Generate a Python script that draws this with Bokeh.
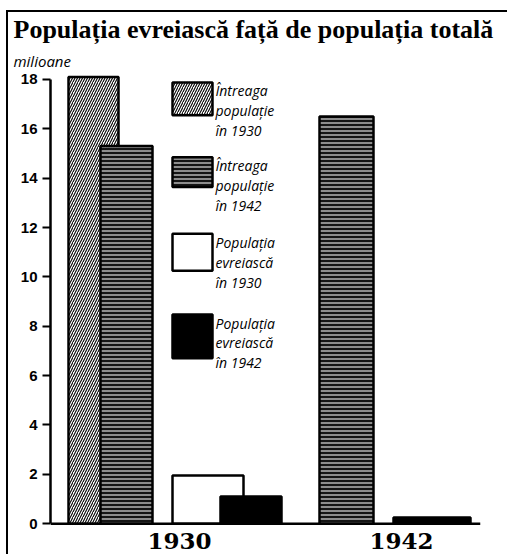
from bokeh.plotting import figure
from bokeh.models import Range1d, FixedTicker, Title, ColumnDataSource, Span
from bokeh.core.properties import value
from bokeh.embed import file_html
from bokeh.resources import INLINE

# ---------------- data ----------------
title_text = "Populația evreiască față de populația totală"
unit_text = "milioane"
year_labels = ["1930", "1942"]
y_ticks = [0, 2, 4, 6, 8, 10, 12, 14, 16, 18]
series_labels = [
    "Întreaga\npopulație\nîn 1930",
    "Întreaga\npopulație\nîn 1942",
    "Populația\nevreiască\nîn 1930",
    "Populația\nevreiască\nîn 1942",
]
bar_series = [0, 1, 2, 3, 1, 3]                      # series of each bar
bar_values = [18.1, 15.3, 1.95, 1.1, 16.5, 0.25]     # millions

# ---------------- layout (px, relative to the plot frame) ----------------
FRAME_W = 430
Y_MAX = 18.2
PX = 451 / Y_MAX                           # px per million
Y_MIN = -33 / PX                           # room under the baseline for the year labels
bar_left = [18, 50, 122, 170, 269, 343]
bar_right = [68, 102, 193, 231, 323, 420]
year_label_pos = [129, 351]
year_label_drop = 17                       # px from baseline to label centre
leg_x0, leg_x1, leg_text_x = 122, 162, 165
leg_top = [443, 368, 291, 210]             # px above baseline
leg_h = [33, 30, 37, 44]

styles = [
    dict(fill_color="white", hatch_pattern="/", hatch_color="black", hatch_scale=5, hatch_weight=1.1),
    dict(fill_color="#151515", hatch_pattern="-", hatch_color="#e0e0e0", hatch_scale=4, hatch_weight=1.2),
    dict(fill_color="white"),
    dict(fill_color="black"),
]

p = figure(width=501, height=544, output_backend="svg", toolbar_location=None,
           x_range=Range1d(0, FRAME_W), y_range=Range1d(Y_MIN, Y_MAX), title=None,
           x_axis_location=None,
           min_border_left=42, min_border_right=29, min_border_top=60, min_border_bottom=0)
p.styles = {"border-top": "2px solid black", "border-left": "2px solid black",
            "margin-left": "6px", "margin-top": "10px", "box-sizing": "border-box"}
p.outline_line_color = None
p.grid.visible = False

# baseline (x axis line)
p.add_layout(Span(location=0, dimension="width", line_color="black", line_width=2.5))

for s in range(4):
    idx = [i for i, b in enumerate(bar_series) if b == s]
    src = ColumnDataSource(dict(
        left=[bar_left[i] for i in idx],
        right=[bar_right[i] for i in idx],
        top=[bar_values[i] for i in idx],
        bottom=[0] * len(idx),
    ))
    p.quad(left="left", right="right", top="top", bottom="bottom", source=src,
           line_color="black", line_width=2.5, **styles[s])

# year labels under the baseline
p.text(x=year_label_pos, y=[-year_label_drop / PX] * 2, text=year_labels,
       text_font=value("DejaVu Serif"), text_font_style="bold", text_font_size="23px",
       text_align="center", text_baseline="middle", text_color="black")

# legend (hand-placed like the original)
for s in range(4):
    p.quad(left=[leg_x0], right=[leg_x1], top=[leg_top[s] / PX], bottom=[(leg_top[s] - leg_h[s]) / PX],
           line_color="black", line_width=2.5, **styles[s])
p.text(x=[leg_text_x] * 4, y=[(t + 1) / PX for t in leg_top], text=series_labels,
       text_font=value("Open Sans"), text_font_style="italic", text_font_size="14px",
       text_line_height=1.05, text_baseline="top", text_align="left", text_color="black")

# y axis
ya = p.yaxis[0]
ya.ticker = FixedTicker(ticks=y_ticks)
ya.bounds = (0, 18)
ya.axis_line_width = 2.5
ya.major_tick_line_width = 2
ya.major_tick_out = 8
ya.major_tick_in = 0
ya.minor_tick_out = 0
ya.minor_tick_in = 0
ya.major_label_text_font = "Liberation Sans"
ya.major_label_text_font_style = "bold"
ya.major_label_text_font_size = "15px"
ya.major_label_text_color = "black"
ya.major_label_standoff = 5

p.add_layout(Title(text=unit_text, align="left", offset=-37, standoff=8,
                   text_font="Open Sans", text_font_style="italic", text_font_size="15px",
                   text_color="black"), "above")
p.add_layout(Title(text=title_text, align="left", offset=-37, standoff=1,
                   text_font="Liberation Serif", text_font_style="bold", text_font_size="26px",
                   text_color="black"), "above")

open("out.html", "w").write(file_html(p, INLINE))
